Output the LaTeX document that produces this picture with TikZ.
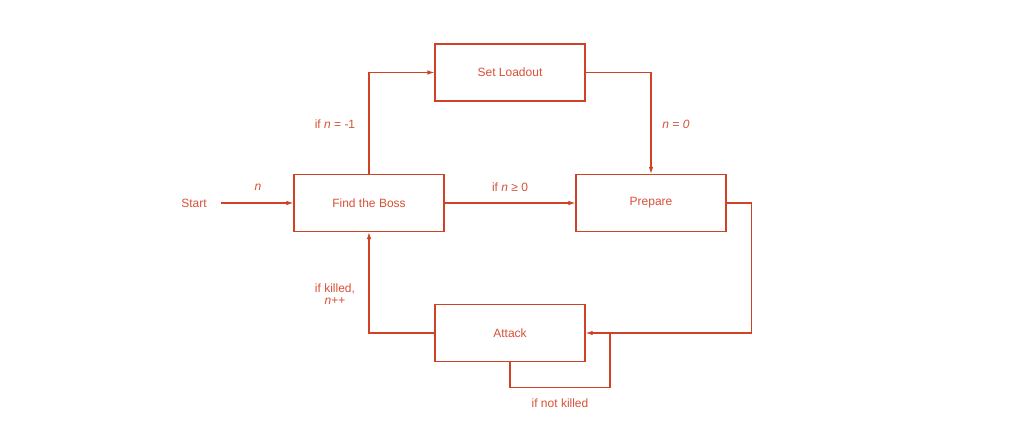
\documentclass[tikz,border=0pt]{standalone}
\usepackage{fontspec}
\setmainfont{Liberation Sans}
\usepackage{tikz}
\usetikzlibrary{calc,arrows.meta}
\definecolor{flow}{RGB}{208,66,38}
\definecolor{flowtext}{RGB}{215,80,55}

\tikzset{
  state/.style={draw=flow,line width=1.1pt,minimum width=150pt,minimum height=57pt,text=flowtext,font=\fontsize{12}{14}\selectfont},
  edge/.style={draw=flow,line width=1.1pt,-{Latex[length=7pt,width=4.5pt]}},
  loopline/.style={draw=flow,line width=1.1pt},
  lab/.style={text=flowtext,font=\fontsize{12}{14}\selectfont,align=center}
}

\begin{document}
\begin{tikzpicture}[x=1pt,y=-1pt]
\useasboundingbox (0,0) rectangle (1024,447);

\node[state](load) at (510,72.5) {Set Loadout};
\node[state](find) at (369,203) {Find the Boss};
\node[state](prep) at (651,203) {Prepare};
\node[state](att) at (510,333) {Attack};

\node[lab](start) at (194,203) {Start};
\coordinate (s0) at (221,203);
\draw[edge](s0)--(find.west);
\node[lab] at (258,187) {\itshape n};

\draw[edge](find.north)|-(load.west);
\node[lab] at (335,124) {if \textit{n} = -1};

\draw[edge](load.east)-|(prep.north);
\node[lab] at (676,124) {\itshape n = 0};

\draw[edge](find.east)--(prep.west);
\node[lab] at (510,187) {if \textit{n} ≥ 0};

\draw[edge](prep.east)--++(25,0)|-(att.east);
\draw[edge](att.west)-|(find.south);
\node[lab] at (335,294) {if killed,\\[-2pt]\textit{n}++};

\coordinate (back) at (610,333);
\draw[loopline](att.south)--++(0,25)-|(back);
\node[lab] at (560,403) {if not killed};
\end{tikzpicture}
\end{document}
